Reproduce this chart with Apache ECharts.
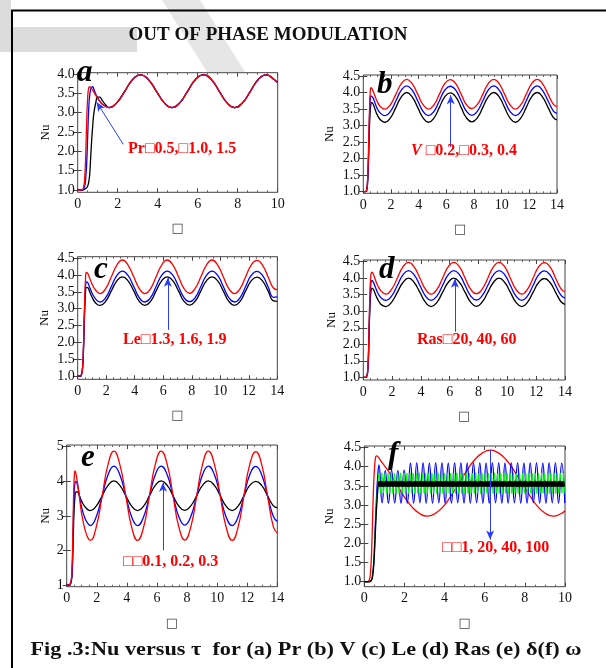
<!DOCTYPE html>
<html>
<head>
<meta charset="utf-8">
<script src="https://cdn.jsdelivr.net/npm/echarts@6.0.0/dist/echarts.min.js"></script>
<style>
  html, body { margin: 0; padding: 0; background: #fff; }
  #chart { width: 606px; height: 668px; }
</style>
</head>
<body>
<div id="chart"></div>
<script>
// tick labels
const xTicks10 = [0, 2, 4, 6, 8, 10]
const xTicks14 = [0, 2, 4, 6, 8, 10, 12, 14]
const yTicksA = [1.0, 1.5, 2.0, 2.5, 3.0, 3.5, 4.0]
const yTicks45 = [1.0, 1.5, 2.0, 2.5, 3.0, 3.5, 4.0, 4.5]
const yTicksE = [1, 2, 3, 4, 5]

// (a) Pr = 0.5, 1.0, 1.5
const tauA = [0, 0.15, 0.25, 0.3, 0.35, 0.4, 0.45, 0.5, 0.55, 0.6, 0.65, 0.7, 0.75, 0.8, 0.9, 1.0, 1.1, 1.2, 1.4,
  1.57, 1.96, 2.36, 2.75, 3.14, 3.53, 3.93, 4.32,
  4.71, 5.11, 5.5, 5.89, 6.28, 6.68, 7.07, 7.46,
  7.85, 8.25, 8.64, 9.03, 9.42, 9.82, 10.0]
const aBlack = [1.0, 1.0, 1.0, 1.01, 1.02, 1.04, 1.06, 1.1, 1.2, 1.4, 1.85, 2.3, 2.65, 2.95, 3.25, 3.4, 3.4, 3.34, 3.2,
  3.13, 3.26, 3.56, 3.86, 3.98, 3.86, 3.56, 3.26,
  3.13, 3.26, 3.56, 3.86, 3.98, 3.86, 3.56, 3.26,
  3.13, 3.26, 3.56, 3.86, 3.98, 3.86, 3.78]
const aBlue = [1.0, 1.0, 1.0, 1.03, 1.1, 1.3, 1.7, 2.4, 3.1, 3.45, 3.6, 3.66, 3.67, 3.62, 3.48, 3.38, 3.3, 3.24, 3.16,
  3.13, 3.26, 3.56, 3.86, 3.98, 3.86, 3.56, 3.26,
  3.13, 3.26, 3.56, 3.86, 3.98, 3.86, 3.56, 3.26,
  3.13, 3.26, 3.56, 3.86, 3.98, 3.86, 3.78]
const aRed = [1.0, 1.0, 1.02, 1.08, 1.3, 1.9, 2.8, 3.4, 3.64, 3.67, 3.65, 3.62, 3.58, 3.54, 3.45, 3.37, 3.3, 3.24, 3.16,
  3.13, 3.26, 3.56, 3.86, 3.98, 3.86, 3.56, 3.26,
  3.13, 3.26, 3.56, 3.86, 3.98, 3.86, 3.56, 3.26,
  3.13, 3.26, 3.56, 3.86, 3.98, 3.86, 3.78]

// (b)-(e) share one tau grid
const tauBE = [0, 0.15, 0.25, 0.3, 0.35, 0.4, 0.45, 0.5, 0.55, 0.6, 0.7, 0.8, 0.9, 1.0, 1.2, 1.4,
  1.57, 1.96, 2.36, 2.75, 3.14, 3.53, 3.93, 4.32,
  4.71, 5.11, 5.5, 5.89, 6.28, 6.68, 7.07, 7.46,
  7.85, 8.25, 8.64, 9.03, 9.42, 9.82, 10.21, 10.6,
  11.0, 11.39, 11.78, 12.17, 12.57, 12.96, 13.35, 13.74, 14.0]

// (b) V = 0.2, 0.3, 0.4
const bBlack = [1.0, 1.0, 1.05, 1.2, 1.6, 2.3, 3.0, 3.45, 3.65, 3.7, 3.66, 3.55, 3.43, 3.33, 3.19, 3.12,
  3.10, 3.23, 3.55, 3.87, 4.00, 3.87, 3.55, 3.23,
  3.10, 3.23, 3.55, 3.87, 3.99, 3.87, 3.55, 3.23,
  3.11, 3.24, 3.55, 3.87, 4.00, 3.87, 3.55, 3.23,
  3.10, 3.23, 3.55, 3.87, 4.00, 3.86, 3.55, 3.24, 3.17]
const bBlue = [1.0, 1.0, 1.06, 1.25, 1.7, 2.5, 3.3, 3.75, 3.9, 3.9, 3.84, 3.74, 3.62, 3.52, 3.39, 3.32,
  3.30, 3.43, 3.75, 4.07, 4.20, 4.07, 3.75, 3.43,
  3.30, 3.43, 3.75, 4.07, 4.19, 4.07, 3.75, 3.43,
  3.31, 3.44, 3.75, 4.07, 4.20, 4.07, 3.75, 3.43,
  3.30, 3.43, 3.75, 4.07, 4.20, 4.06, 3.75, 3.44, 3.37]
const bRed = [1.0, 1.0, 1.08, 1.3, 1.8, 2.7, 3.5, 4.0, 4.15, 4.13, 4.05, 3.94, 3.83, 3.73, 3.59, 3.52,
  3.50, 3.63, 3.95, 4.27, 4.40, 4.27, 3.95, 3.63,
  3.50, 3.63, 3.95, 4.27, 4.39, 4.27, 3.95, 3.63,
  3.51, 3.64, 3.95, 4.27, 4.40, 4.27, 3.95, 3.63,
  3.50, 3.63, 3.95, 4.27, 4.40, 4.26, 3.95, 3.64, 3.57]

// (c) Le = 1.3, 1.6, 1.9
const cBlack = [1.0, 1.0, 1.03, 1.1, 1.27, 1.7, 2.4, 3.1, 3.5, 3.63, 3.63, 3.55, 3.44, 3.35, 3.2, 3.12,
  3.10, 3.22, 3.53, 3.83, 3.95, 3.83, 3.53, 3.22,
  3.10, 3.22, 3.53, 3.83, 3.95, 3.83, 3.53, 3.22,
  3.11, 3.23, 3.53, 3.83, 3.95, 3.83, 3.53, 3.22,
  3.10, 3.22, 3.53, 3.83, 3.94, 3.83, 3.53, 3.23, 3.22]
const cBlue = [1.0, 1.0, 1.03, 1.1, 1.28, 1.75, 2.5, 3.2, 3.65, 3.8, 3.78, 3.68, 3.57, 3.47, 3.32, 3.23,
  3.20, 3.33, 3.66, 3.99, 4.12, 3.99, 3.66, 3.33,
  3.20, 3.33, 3.66, 3.99, 4.12, 3.99, 3.66, 3.33,
  3.21, 3.34, 3.66, 3.99, 4.12, 3.99, 3.66, 3.33,
  3.20, 3.33, 3.66, 3.99, 4.11, 3.99, 3.66, 3.34, 3.35]
const cRed = [1.0, 1.0, 1.03, 1.1, 1.3, 1.8, 2.6, 3.4, 3.9, 4.08, 4.05, 3.95, 3.84, 3.74, 3.58, 3.49,
  3.45, 3.60, 3.95, 4.30, 4.45, 4.30, 3.95, 3.60,
  3.45, 3.60, 3.95, 4.30, 4.45, 4.30, 3.95, 3.60,
  3.46, 3.61, 3.95, 4.30, 4.45, 4.30, 3.95, 3.60,
  3.45, 3.60, 3.95, 4.30, 4.44, 4.30, 3.95, 3.61, 3.57]

// (d) Ras = 20, 40, 60
const dBlack = [1.0, 1.0, 1.05, 1.15, 1.5, 2.3, 3.0, 3.45, 3.65, 3.7, 3.66, 3.56, 3.45, 3.36, 3.22, 3.16,
  3.14, 3.27, 3.57, 3.87, 4.00, 3.87, 3.57, 3.27,
  3.14, 3.27, 3.57, 3.87, 4.00, 3.87, 3.57, 3.27,
  3.15, 3.28, 3.57, 3.87, 4.00, 3.87, 3.57, 3.27,
  3.14, 3.27, 3.57, 3.87, 3.99, 3.87, 3.57, 3.28, 3.21]
const dBlue = [1.0, 1.0, 1.05, 1.18, 1.55, 2.4, 3.2, 3.7, 3.9, 3.93, 3.88, 3.77, 3.66, 3.56, 3.42, 3.35,
  3.33, 3.46, 3.78, 4.10, 4.23, 4.10, 3.78, 3.46,
  3.33, 3.46, 3.78, 4.10, 4.23, 4.10, 3.78, 3.46,
  3.34, 3.47, 3.78, 4.10, 4.23, 4.10, 3.78, 3.46,
  3.33, 3.46, 3.78, 4.10, 4.22, 4.10, 3.78, 3.47, 3.40]
const dRed = [1.0, 1.0, 1.05, 1.2, 1.6, 2.5, 3.4, 3.95, 4.15, 4.18, 4.12, 4.0, 3.88, 3.78, 3.63, 3.55,
  3.52, 3.66, 4.00, 4.34, 4.48, 4.34, 4.00, 3.66,
  3.52, 3.66, 4.00, 4.34, 4.48, 4.34, 4.00, 3.66,
  3.53, 3.67, 4.00, 4.34, 4.48, 4.34, 4.00, 3.66,
  3.52, 3.66, 4.00, 4.34, 4.47, 4.34, 4.00, 3.67, 3.59]

// (e) delta = 0.1, 0.2, 0.3
const eBlack = [1.0, 1.0, 1.03, 1.1, 1.25, 1.8, 2.6, 3.25, 3.55, 3.68, 3.7, 3.63, 3.52, 3.42, 3.27, 3.18,
  3.15, 3.28, 3.58, 3.88, 4.01, 3.88, 3.58, 3.28,
  3.15, 3.28, 3.58, 3.88, 4.01, 3.88, 3.58, 3.28,
  3.16, 3.29, 3.58, 3.88, 4.01, 3.88, 3.58, 3.28,
  3.15, 3.28, 3.58, 3.88, 4.00, 3.88, 3.58, 3.29, 3.24]
const eBlue = [1.0, 1.0, 1.04, 1.12, 1.3, 2.0, 3.0, 3.7, 3.95, 4.0, 3.92, 3.7, 3.45, 3.23, 2.95, 2.78,
  2.72, 2.97, 3.58, 4.19, 4.44, 4.19, 3.58, 2.97,
  2.72, 2.97, 3.58, 4.19, 4.44, 4.19, 3.58, 2.97,
  2.73, 2.98, 3.58, 4.19, 4.44, 4.19, 3.58, 2.97,
  2.72, 2.97, 3.58, 4.19, 4.43, 4.19, 3.58, 2.98, 2.84]
const eRed = [1.0, 1.0, 1.05, 1.15, 1.4, 2.3, 3.4, 4.1, 4.3, 4.25, 4.0, 3.7, 3.35, 3.05, 2.63, 2.37,
  2.29, 2.67, 3.58, 4.49, 4.87, 4.49, 3.58, 2.67,
  2.29, 2.67, 3.58, 4.49, 4.87, 4.49, 3.58, 2.67,
  2.30, 2.68, 3.58, 4.49, 4.87, 4.49, 3.58, 2.67,
  2.29, 2.67, 3.58, 4.49, 4.86, 4.49, 3.58, 2.68, 2.50]

// (f) omega = 1, 20, 40, 100
const tauF = [0, 0.15, 0.25, 0.3, 0.35, 0.4, 0.45, 0.5, 0.55, 0.6, 0.7,
  0.785, 1.18, 1.57, 1.96, 2.36, 2.75, 3.14, 3.53, 3.93, 4.32, 4.71, 5.11,
  5.5, 5.89, 6.28, 6.68, 7.07, 7.46, 7.85, 8.25, 8.64, 9.03, 9.42, 9.82, 10.0]
const fRed = [1.0, 1.0, 1.05, 1.2, 1.6, 2.4, 3.3, 3.9, 4.2, 4.28, 4.25,
  4.18, 3.90, 3.57, 3.24, 2.96, 2.78, 2.71, 2.78, 2.96, 3.24, 3.57, 3.90,
  4.18, 4.36, 4.43, 4.36, 4.18, 3.90, 3.57, 3.24, 2.96, 2.78, 2.71, 2.78, 2.85]

// start-up part of the fast curves
const tauRiseF = [0, 0.15, 0.25, 0.3, 0.35, 0.4, 0.45, 0.5, 0.55, 0.6, 0.65]
const fBlueRise = [1.0, 1.0, 1.0, 1.01, 1.04, 1.12, 1.35, 1.8, 2.5, 3.1, 3.6]
const fGreenRise = [1.0, 1.0, 1.0, 1.01, 1.03, 1.1, 1.32, 1.75, 2.4, 2.95, 3.35]
const fBlackRise = [1.0, 1.0, 1.0, 1.01, 1.03, 1.1, 1.3, 1.7, 2.3, 2.85, 3.25]

// peaks / troughs of the fast curves, read every half period
const fBlueStart = 0.73, fBlueStep = 0.157
const fBluePeaks = [
  4.05, 3.06, 3.90, 3.05, 3.91, 3.06, 3.90, 3.05, 3.91, 3.05, 4.09, 3.05, 4.10, 3.06, 4.10, 3.05, 4.09, 3.05, 4.10, 3.06,
  4.10, 3.05, 4.09, 3.05, 4.10, 3.06, 4.10, 3.05, 4.09, 3.05, 4.10, 3.06, 4.10, 3.05, 4.09, 3.05, 4.10, 3.06, 4.10, 3.05,
  4.09, 3.05, 4.10, 3.06, 4.10, 3.05, 4.09, 3.05, 4.10, 3.06, 4.10, 3.05, 4.09, 3.05, 4.10, 3.06, 4.10, 3.05, 4.09, 3.05]
const fGreenStart = 0.72, fGreenStep = 0.078
const fGreenPeaks = [
  3.83, 3.30, 3.84, 3.31, 3.83, 3.30, 3.83, 3.30, 3.84, 3.31, 3.83, 3.30, 3.83, 3.30, 3.84, 3.31, 3.83, 3.30, 3.83, 3.30,
  3.84, 3.31, 3.83, 3.30, 3.83, 3.30, 3.84, 3.31, 3.83, 3.30, 3.83, 3.30, 3.84, 3.31, 3.83, 3.30, 3.83, 3.30, 3.84, 3.31,
  3.83, 3.30, 3.83, 3.30, 3.84, 3.31, 3.83, 3.30, 3.83, 3.30, 3.84, 3.31, 3.83, 3.30, 3.83, 3.30, 3.84, 3.31, 3.83, 3.30,
  3.83, 3.30, 3.84, 3.31, 3.83, 3.30, 3.83, 3.30, 3.84, 3.31, 3.83, 3.30, 3.83, 3.30, 3.84, 3.31, 3.83, 3.30, 3.83, 3.30,
  3.84, 3.31, 3.83, 3.30, 3.83, 3.30, 3.84, 3.31, 3.83, 3.30, 3.83, 3.30, 3.84, 3.31, 3.83, 3.30, 3.83, 3.30, 3.84, 3.31,
  3.83, 3.30, 3.83, 3.30, 3.84, 3.31, 3.83, 3.30, 3.83, 3.30, 3.84, 3.31, 3.83, 3.30, 3.83, 3.30, 3.84, 3.31, 3.83, 3.30]
const fBlackStart = 0.70, fBlackStep = 0.031
const fBlackPeaks = [
  3.62, 3.48, 3.62, 3.48, 3.63, 3.48, 3.62, 3.47, 3.62, 3.48, 3.62, 3.48, 3.63, 3.48, 3.62, 3.47, 3.62, 3.48, 3.62, 3.48,
  3.63, 3.48, 3.62, 3.47, 3.62, 3.48, 3.62, 3.48, 3.63, 3.48, 3.62, 3.47, 3.62, 3.48, 3.62, 3.48, 3.63, 3.48, 3.62, 3.47,
  3.62, 3.48, 3.62, 3.48, 3.63, 3.48, 3.62, 3.47, 3.62, 3.48, 3.62, 3.48, 3.63, 3.48, 3.62, 3.47, 3.62, 3.48, 3.62, 3.48,
  3.63, 3.48, 3.62, 3.47, 3.62, 3.48, 3.62, 3.48, 3.63, 3.48, 3.62, 3.47, 3.62, 3.48, 3.62, 3.48, 3.63, 3.48, 3.62, 3.47,
  3.62, 3.48, 3.62, 3.48, 3.63, 3.48, 3.62, 3.47, 3.62, 3.48, 3.62, 3.48, 3.63, 3.48, 3.62, 3.47, 3.62, 3.48, 3.62, 3.48,
  3.63, 3.48, 3.62, 3.47, 3.62, 3.48, 3.62, 3.48, 3.63, 3.48, 3.62, 3.47, 3.62, 3.48, 3.62, 3.48, 3.63, 3.48, 3.62, 3.47,
  3.62, 3.48, 3.62, 3.48, 3.63, 3.48, 3.62, 3.47, 3.62, 3.48, 3.62, 3.48, 3.63, 3.48, 3.62, 3.47, 3.62, 3.48, 3.62, 3.48,
  3.63, 3.48, 3.62, 3.47, 3.62, 3.48, 3.62, 3.48, 3.63, 3.48, 3.62, 3.47, 3.62, 3.48, 3.62, 3.48, 3.63, 3.48, 3.62, 3.47,
  3.62, 3.48, 3.62, 3.48, 3.63, 3.48, 3.62, 3.47, 3.62, 3.48, 3.62, 3.48, 3.63, 3.48, 3.62, 3.47, 3.62, 3.48, 3.62, 3.48,
  3.63, 3.48, 3.62, 3.47, 3.62, 3.48, 3.62, 3.48, 3.63, 3.48, 3.62, 3.47, 3.62, 3.48, 3.62, 3.48, 3.63, 3.48, 3.62, 3.47,
  3.62, 3.48, 3.62, 3.48, 3.63, 3.48, 3.62, 3.47, 3.62, 3.48, 3.62, 3.48, 3.63, 3.48, 3.62, 3.47, 3.62, 3.48, 3.62, 3.48,
  3.63, 3.48, 3.62, 3.47, 3.62, 3.48, 3.62, 3.48, 3.63, 3.48, 3.62, 3.47, 3.62, 3.48, 3.62, 3.48, 3.63, 3.48, 3.62, 3.47,
  3.62, 3.48, 3.62, 3.48, 3.63, 3.48, 3.62, 3.47, 3.62, 3.48, 3.62, 3.48, 3.63, 3.48, 3.62, 3.47, 3.62, 3.48, 3.62, 3.48,
  3.63, 3.48, 3.62, 3.47, 3.62, 3.48, 3.62, 3.48, 3.63, 3.48, 3.62, 3.47, 3.62, 3.48, 3.62, 3.48, 3.63, 3.48, 3.62, 3.47,
  3.62, 3.48, 3.62, 3.48, 3.63, 3.48, 3.62, 3.47, 3.62, 3.48, 3.62, 3.48, 3.63, 3.48, 3.62, 3.47, 3.62, 3.48, 3.62, 3.48]

const SERIF = 'Liberation Serif'
const RED = '#ff0000', BLUE = '#0000ff', BLACK = '#000000', GREEN = '#00ff00'

function zip(t, y) {
  return y.map((v, i) => [t[i], v])
}
function fast(riseT, rise, start, step, peaks) {
  return zip(riseT, rise).concat(peaks.map((v, i) => [+(start + i * step).toFixed(3), v]))
}

const panels = [
  {
    box: {left: 77.7, top: 72.7, width: 200, height: 119.6},
    xTicks: xTicks10, yMin: 0.94, yMax: 4.034, yTicks: yTicksA, digits: 1, nameGap: 26,
    lines: [[BLACK, zip(tauA, aBlack)], [BLUE, zip(tauA, aBlue)], [RED, zip(tauA, aRed)]],
    arrow: [[2.28, 2.18], [0.95, 3.27]]
  },
  {
    box: {left: 363.3, top: 75, width: 193.7, height: 118.3},
    xTicks: xTicks14, yMin: 0.95, yMax: 4.53, yTicks: yTicks45, digits: 1, nameGap: 27,
    lines: [[BLACK, zip(tauBE, bBlack)], [BLUE, zip(tauBE, bBlue)], [RED, zip(tauBE, bRed)]],
    arrow: [[6.32, 2.35], [6.32, 3.92]]
  },
  {
    box: {left: 77.7, top: 256.7, width: 199.6, height: 122.6},
    xTicks: xTicks14, yMin: 0.9, yMax: 4.548, yTicks: yTicks45, digits: 1, nameGap: 27,
    lines: [[BLACK, zip(tauBE, cBlack)], [BLUE, zip(tauBE, cBlue)], [RED, zip(tauBE, cRed)]],
    arrow: [[6.32, 2.37], [6.32, 3.92]]
  },
  {
    box: {left: 363.3, top: 260, width: 201.7, height: 120},
    xTicks: xTicks14, yMin: 0.92, yMax: 4.55, yTicks: yTicks45, digits: 1, nameGap: 25,
    lines: [[BLACK, zip(tauBE, dBlack)], [BLUE, zip(tauBE, dBlue)], [RED, zip(tauBE, dRed)]],
    arrow: [[6.36, 2.38], [6.36, 3.98]]
  },
  {
    box: {left: 66.7, top: 445, width: 210.6, height: 141.7},
    xTicks: xTicks14, yMin: 0.95, yMax: 5.05, yTicks: yTicksE, digits: 0, nameGap: 15,
    lines: [[BLACK, zip(tauBE, eBlack)], [BLUE, zip(tauBE, eBlue)], [RED, zip(tauBE, eRed)]],
    arrow: [[6.4, 2.0], [6.4, 3.96]]
  },
  {
    box: {left: 364.3, top: 446, width: 200.7, height: 140.7},
    xTicks: xTicks10, yMin: 0.87, yMax: 4.54, yTicks: yTicks45, digits: 1, nameGap: 28,
    lines: [
      [RED, zip(tauF, fRed)],
      [BLUE, fast(tauRiseF, fBlueRise, fBlueStart, fBlueStep, fBluePeaks)],
      [GREEN, fast(tauRiseF, fGreenRise, fGreenStart, fGreenStep, fGreenPeaks), 1, false],
      [BLACK, fast(tauRiseF, fBlackRise, fBlackStart, fBlackStep, fBlackPeaks), 1.4, false]
    ],
    arrow: [[6.27, 4.44], [6.27, 2.1]]
  }
]

const tickStyle = {inside: true, length: 4, lineStyle: {color: '#444', width: 1}}
const labelStyle = {fontFamily: SERIF, fontSize: 14, color: '#111'}

const option = {
  animation: false,
  backgroundColor: '#ffffff',
  grid: [], xAxis: [], yAxis: [], series: [], graphic: []
}

panels.forEach((p, i) => {
  const xMax = p.xTicks[p.xTicks.length - 1]
  option.grid.push(Object.assign({show: true, borderColor: '#444', borderWidth: 1, outerBoundsMode: 'none'}, p.box))
  option.xAxis.push({
    gridIndex: i, type: 'value', min: 0, max: xMax, interval: 2,
    name: '□', nameLocation: 'middle', nameGap: 30,
    nameTextStyle: {fontFamily: 'DejaVu Sans', fontSize: 13, color: '#444'},
    axisLine: {show: false}, axisTick: tickStyle, splitLine: {show: false},
    minorTick: {show: true, splitNumber: 4, length: 2, lineStyle: {color: '#666'}},
    axisLabel: Object.assign({margin: 5}, labelStyle)
  })
  option.xAxis.push({
    gridIndex: i, type: 'value', position: 'top', min: 0, max: xMax, interval: 2,
    axisLine: {show: false}, axisTick: tickStyle, splitLine: {show: false},
    minorTick: {show: true, splitNumber: 4, length: 2, lineStyle: {color: '#666'}},
    axisLabel: {show: false}
  })
  option.yAxis.push({
    gridIndex: i, type: 'value', min: p.yMin, max: p.yMax,
    name: 'Nu', nameLocation: 'middle', nameGap: p.nameGap, nameRotate: 90,
    nameTextStyle: {fontFamily: SERIF, fontSize: 13, color: '#111'},
    axisLine: {show: false}, splitLine: {show: false},
    axisTick: Object.assign({customValues: p.yTicks}, tickStyle),
    axisLabel: Object.assign({customValues: p.yTicks, margin: 3,
      formatter: v => Number(v).toFixed(p.digits)}, labelStyle)
  })
  option.yAxis.push({
    gridIndex: i, type: 'value', position: 'right', min: p.yMin, max: p.yMax,
    axisLine: {show: false}, splitLine: {show: false},
    axisTick: Object.assign({customValues: p.yTicks}, tickStyle),
    axisLabel: {show: false}
  })
  p.lines.forEach((ln, k) => {
    const s = {
      type: 'line', xAxisIndex: 2 * i, yAxisIndex: 2 * i,
      data: ln[1], showSymbol: false, silent: true,
      smooth: ln[3] === false ? false : 0.5,
      lineStyle: {color: ln[0], width: ln[2] || 1.3}
    }
    if (k === p.lines.length - 1) {
      s.markLine = {
        silent: true, symbol: ['none', 'arrow'], symbolSize: [6, 9],
        label: {show: false},
        lineStyle: {color: '#2a3cff', width: 1, type: 'solid'},
        data: [[{coord: p.arrow[0]}, {coord: p.arrow[1]}]]
      }
    }
    option.series.push(s)
  })
})

// annotations, letters, title, caption, frame
const notes = [
  ['Pr□0.5,□1.0, 1.5', 128, 149],
  ['{i|V} □0.2,□0.3, 0.4', 411, 151],
  ['Le□1.3, 1.6, 1.9', 123, 340],
  ['Ras□20, 40, 60', 417, 340],
  ['□□0.1, 0.2, 0.3', 123, 562],
  ['□□1, 20, 40, 100', 442, 548]
]
const letters = [['a', 77, 73], ['b', 377, 85], ['c', 94, 270], ['d', 379, 270], ['e', 81, 458], ['f', 388, 455]]

option.graphic.push(
  {type: 'rect', z: -5, silent: true, shape: {x: 0, y: 27, width: 137, height: 25}, style: {fill: '#dcdcdc'}},
  {type: 'rect', z: -5, silent: true, shape: {x: 0, y: 0, width: 11, height: 52}, style: {fill: '#dcdcdc'}},
  {type: 'polygon', z: -5, silent: true, shape: {points: [[162, 0], [200, 0], [245, 72], [207, 72]]}, style: {fill: '#e6e6e6'}},
  {type: 'rect', z: 10, silent: true, shape: {x: 12, y: 10.5, width: 640, height: 700},
    style: {fill: 'none', stroke: '#000', lineWidth: 2}},
  {type: 'text', z: 10, silent: true, x: 268, y: 35,
    style: {text: 'OUT OF PHASE MODULATION', fontFamily: SERIF, fontWeight: 'bold', fontSize: 19,
      fill: '#111', align: 'center', verticalAlign: 'middle'}},
  {type: 'text', z: 10, silent: true, x: 306, y: 650, scaleX: 1.17,
    style: {text: 'Fig .3:Nu versus τ  for (a) Pr (b) V (c) Le (d) Ras (e) δ(f) ω', fontFamily: SERIF,
      fontWeight: 'bold', fontSize: 19, fill: '#111', align: 'center', verticalAlign: 'middle'}}
)
notes.forEach(n => option.graphic.push({
  type: 'text', z: 10, silent: true, x: n[1], y: n[2],
  style: {text: n[0], fontFamily: SERIF, fontWeight: 'bold', fontSize: 16, fill: '#ff0000',
    align: 'left', verticalAlign: 'middle',
    rich: {i: {fontFamily: SERIF, fontWeight: 'bold', fontStyle: 'italic', fontSize: 16, fill: '#ff0000'}}}
}))
letters.forEach(l => option.graphic.push({
  type: 'text', z: 10, silent: true, x: l[1], y: l[2],
  style: {text: l[0], fontFamily: SERIF, fontWeight: 'bold', fontStyle: 'italic', fontSize: 31,
    fill: '#000', align: 'left', verticalAlign: 'middle'}
}))

const chart = echarts.init(document.getElementById('chart'), null, {renderer: 'canvas'})
chart.setOption(option)
</script>
</body>
</html>
